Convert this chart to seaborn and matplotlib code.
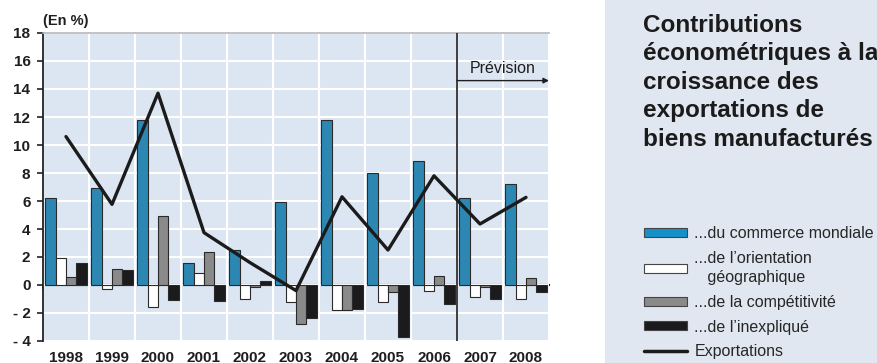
import numpy as np
import pandas as pd
import matplotlib
matplotlib.use("Agg")
import matplotlib.pyplot as plt
import seaborn as sns
from matplotlib.patches import Patch, Rectangle
from matplotlib.lines import Line2D

# Contributions (points de %) et croissance des exportations
years = ["1998", "1999", "2000", "2001", "2002", "2003", "2004", "2005", "2006", "2007", "2008"]
commerce_mondial = [6.2, 6.9, 11.8, 1.55, 2.5, 5.95, 11.8, 8.0, 8.85, 6.2, 7.2]
orientation_geo = [1.9, -0.3, -1.6, 0.83, -1.02, -1.24, -1.8, -1.2, -0.45, -0.88, -1.02]
competitivite = [0.55, 1.17, 4.95, 2.33, -0.17, -2.8, -1.76, -0.52, 0.64, -0.17, 0.48]
inexplique = [1.57, 1.1, -1.05, -1.15, 0.3, -2.33, -1.69, -3.7, -1.33, -0.98, -0.5]
exportations = [10.6, 5.76, 13.7, 3.74, 1.6, -0.4, 6.3, 2.5, 7.8, 4.36, 6.26]

series_labels = ["...du commerce mondiale", "...de l\u2019orientation\n   géographique",
                 "...de la compétitivité", "...de l\u2019inexpliqué"]
series_colors = ["#1690c9", "#ffffff", "#8a8a8a", "#1b1b1d"]
line_label = "Exportations"
y_ticks = [-4, -2, 0, 2, 4, 6, 8, 10, 12, 14, 16, 18]
y_tick_labels = ["- 4", "- 2", "0", "2", "4", "6", "8", "10", "12", "14", "16", "18"]

sns.set_theme(style="white")
plt.rcParams["font.family"] = ["Liberation Sans", "DejaVu Sans"]

df = pd.DataFrame({
    "annee": np.tile(years, 4),
    "valeur": np.concatenate([commerce_mondial, orientation_geo, competitivite, inexplique]),
    "composante": np.repeat(series_labels, len(years)),
})

fig = plt.figure(figsize=(8.78, 3.63), dpi=100)
fig.patches.append(Rectangle((605 / 878, 0), 1 - 605 / 878, 1, transform=fig.transFigure,
                             facecolor="#e1e7f0", edgecolor="none", zorder=0))
ax = fig.add_axes([43 / 878, 1 - 341 / 363, 506 / 878, 308 / 363])
ax.set_facecolor("#dce6f2")

sns.barplot(data=df, x="annee", y="valeur", hue="composante", hue_order=series_labels,
            palette=series_colors, width=0.9, edgecolor="#2a2a2a", linewidth=0.8,
            ax=ax, legend=False, zorder=3)
sns.lineplot(x=np.arange(len(years)), y=exportations, color="#1b1b1b", linewidth=2.4,
             ax=ax, zorder=5, legend=False)

ax.set_xlim(-0.5, len(years) - 0.5)
ax.set_ylim(-4, 18)
ax.set_xlabel("")
ax.set_ylabel("")

# grid: white lines at each y tick and at each year boundary
ax.set_yticks(y_ticks)
ax.set_yticklabels(y_tick_labels, fontsize=11, fontweight="bold", color="#1e1e1e")
ax.set_xticks(np.arange(len(years)))
ax.set_xticklabels(years, fontsize=11, fontweight="bold", color="#1e1e1e")
ax.set_xticks(np.arange(-0.5, len(years), 1), minor=True)
ax.grid(axis="y", which="major", color="white", linewidth=1.5, zorder=0)
ax.grid(axis="x", which="minor", color="white", linewidth=1.5, zorder=0)
ax.set_axisbelow(True)
ax.tick_params(axis="x", which="both", length=0, pad=7)
ax.tick_params(axis="y", which="major", length=4, width=1.2, color="#222222",
               direction="out", pad=5, left=True)

for side in ("right", "bottom"):
    ax.spines[side].set_visible(False)
ax.spines["top"].set_color("#b8b8b8")
ax.spines["top"].set_linewidth(1.2)
ax.spines["left"].set_color("#222222")
ax.spines["left"].set_linewidth(1.3)

# zero axis with small ticks at year boundaries
zero_ax = ax.secondary_xaxis(4 / 22)
zero_ax.set_xticks(np.arange(-0.5, len(years) - 0.6, 1))
zero_ax.tick_params(length=3, width=1.2, color="#222222", direction="out", labelbottom=False)
zero_ax.spines["bottom"].set_color("#222222")
zero_ax.spines["bottom"].set_linewidth(1.5)

# forecast marker
ax.axvline(8.5, color="#1e1e1e", linewidth=1.2, zorder=6)
ax.annotate("", xy=(10.5, 14.6), xytext=(8.5, 14.6),
            arrowprops=dict(arrowstyle="-|>", color="#1e1e1e", lw=1.0, mutation_scale=8,
                            shrinkA=0, shrinkB=0), zorder=6)
ax.text(9.5, 14.9, "Prévision", ha="center", va="bottom", fontsize=11.5, color="#1e1e1e")

fig.text(43 / 878, 1 - 21 / 363, "(En %)", ha="left", va="center", fontsize=10.5,
         fontweight="bold", color="#1e1e1e")

fig.text(643 / 878, 1 - 14 / 363,
         "Contributions\néconométriques à la\ncroissance des\nexportations de\nbiens manufacturés",
         ha="left", va="top", fontsize=17.5, fontweight="bold", color="#1b1b1b", linespacing=1.3)

handles = [Patch(facecolor=c, edgecolor="#444444", linewidth=0.8) for c in series_colors]
handles.append(Line2D([0], [0], color="#1b1b1b", linewidth=2.5))
leg = fig.legend(handles, series_labels + [line_label], loc="upper left",
                 bbox_to_anchor=(644 / 878, 1 - 226 / 363), frameon=False, fontsize=11.5,
                 handlelength=2.7, handleheight=0.5, handletextpad=0.45, labelspacing=0.6,
                 borderaxespad=0, borderpad=0)
for t in leg.get_texts():
    t.set_linespacing(1.4)

fig.savefig("out.png", dpi=100)
